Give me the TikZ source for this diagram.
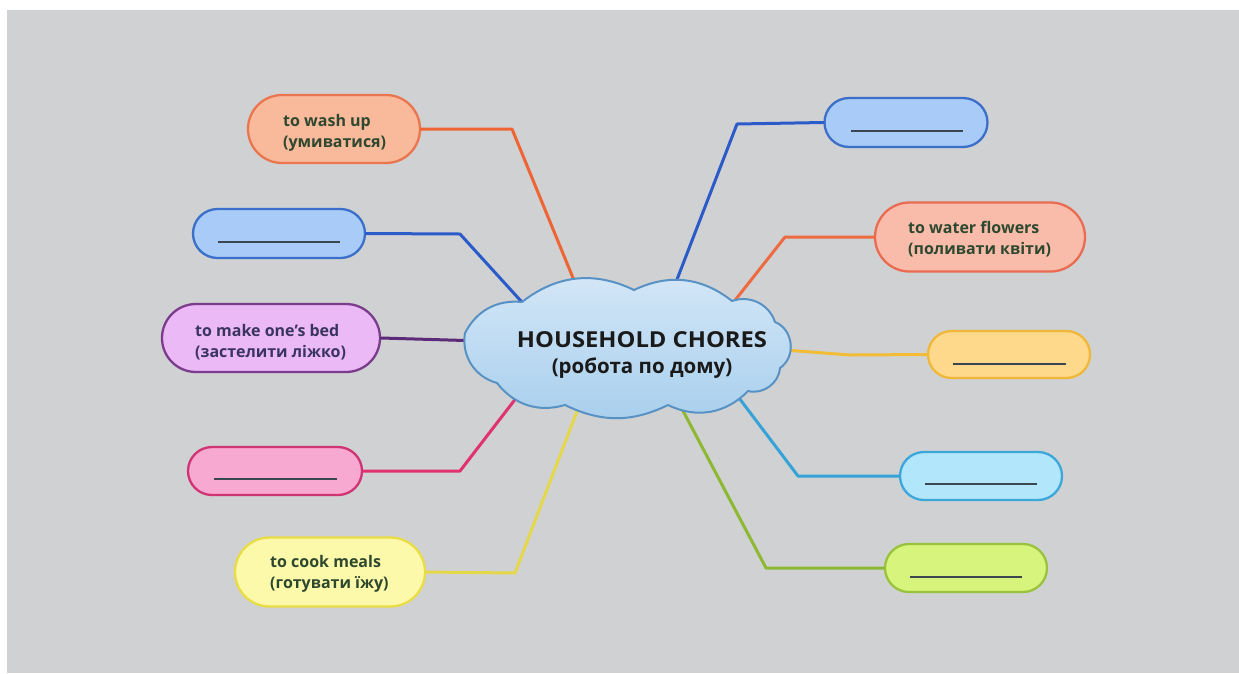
\documentclass[tikz,border=0pt]{standalone}
\usepackage{fontspec}
\setmainfont{Open Sans}
\usetikzlibrary{shapes.misc}
\definecolor{bggray}{HTML}{D0D1D3}
\definecolor{txtgreen}{HTML}{2E482F}
\definecolor{txtpurple}{HTML}{3A3560}
\definecolor{ulcol}{HTML}{3A4650}
\begin{document}
\begin{tikzpicture}[x=1pt,y=-1pt,
  box/.style={rounded rectangle, draw, line width=2.3pt, inner sep=0pt},
  boxtext/.style={align=left, inner sep=0pt, anchor=west, font=\fontsize{16}{20.5}\selectfont\bfseries},
  conn/.style={line width=3pt, line join=round, line cap=round},
  ul/.style={inner sep=0pt, text=ulcol}]
\useasboundingbox (0,0) rectangle (1239,673);
\fill[white] (0,0) rectangle (1239,673);
\fill[bggray] (7,10) rectangle (1239,673);

% left boxes
\node[box, fill={rgb,255:red,249;green,185;blue,155}, draw={rgb,255:red,233;green,118;blue,78}, minimum width=172pt, minimum height=68pt] (wash) at (334,129) {};
\node[boxtext, text=txtgreen] (washt) at (283,133) {to wash up\\(умиватися)};

\node[box, fill={rgb,255:red,168;green,203;blue,247}, draw={rgb,255:red,59;green,111;blue,201}, minimum width=172pt, minimum height=49pt] (bl) at (279,233.5) {};
\node[ul] (blu) at (279,242) {\rule{122pt}{1.8pt}};

\node[box, fill={rgb,255:red,235;green,185;blue,246}, draw={rgb,255:red,123;green,60;blue,140}, minimum width=218pt, minimum height=68pt] (bed) at (271,338) {};
\node[boxtext, text=txtpurple] (bedt) at (195,342) {to make one’s bed\\(застелити ліжко)};

\node[box, fill={rgb,255:red,248;green,169;blue,209}, draw={rgb,255:red,207;green,53;blue,115}, minimum width=174pt, minimum height=48pt] (pk) at (275,471) {};
\node[ul] (pku) at (275,479) {\rule{123pt}{1.8pt}};

\node[box, fill={rgb,255:red,252;green,250;blue,170}, draw={rgb,255:red,233;green,221;blue,69}, minimum width=190pt, minimum height=69pt] (cook) at (330,572) {};
\node[boxtext, text=txtgreen] (cookt) at (270,574) {to cook meals\\(готувати їжу)};

% right boxes
\node[box, fill={rgb,255:red,168;green,203;blue,247}, draw={rgb,255:red,59;green,111;blue,201}, minimum width=163pt, minimum height=49pt] (br) at (906,122.5) {};
\node[ul] (bru) at (907,131) {\rule{112pt}{1.8pt}};

\node[box, fill={rgb,255:red,249;green,188;blue,171}, draw={rgb,255:red,233;green,108;blue,82}, minimum width=210pt, minimum height=69pt] (water) at (980,237) {};
\node[boxtext, text=txtgreen] (watert) at (908,239) {to water flowers\\(поливати квіти)};

\node[box, fill={rgb,255:red,254;green,217;blue,140}, draw={rgb,255:red,240;green,184;blue,56}, minimum width=162pt, minimum height=47pt] (yl) at (1009,354.5) {};
\node[ul] (ylu) at (1009,364) {\rule{113pt}{1.8pt}};

\node[box, fill={rgb,255:red,178;green,230;blue,251}, draw={rgb,255:red,59;green,167;blue,218}, minimum width=162pt, minimum height=48pt] (cy) at (981,476) {};
\node[ul] (cyu) at (981,484) {\rule{112pt}{1.8pt}};

\node[box, fill={rgb,255:red,215;green,244;blue,124}, draw={rgb,255:red,153;green,195;blue,60}, minimum width=162pt, minimum height=48pt] (lm) at (966,568) {};
\node[ul] (lmu) at (966,577) {\rule{112pt}{1.8pt}};

% cloud contact points (hidden under the cloud)
\coordinate (c1) at (580,295);
\coordinate (c2) at (530,311);
\coordinate (c3) at (482,341);
\coordinate (c4) at (530,380);
\coordinate (c5) at (589,380);
\coordinate (c6) at (671,295);
\coordinate (c7) at (725,313);
\coordinate (c8) at (772,349);
\coordinate (c9) at (733,390);
\coordinate (c10) at (672,390);

% connectors
\draw[conn, draw={rgb,255:red,238;green,100;blue,51}] (wash.east) -- (512,129) -- (c1);
\draw[conn, draw={rgb,255:red,43;green,91;blue,201}] (bl.east) -- (460,234) -- (c2);
\draw[conn, draw={rgb,255:red,92;green,42;blue,120}] (bed.east) -- (c3);
\draw[conn, draw={rgb,255:red,224;green,50;blue,111}] (pk.east) -- (460,471) -- (c4);
\draw[conn, draw={rgb,255:red,228;green,216;blue,74}] (cook.east) -- (515,573) -- (c5);
\draw[conn, draw={rgb,255:red,43;green,91;blue,201}] (br.west) -- (737,124) -- (c6);
\draw[conn, draw={rgb,255:red,238;green,106;blue,64}] (water.west) -- (785,237) -- (c7);
\draw[conn, draw={rgb,255:red,242;green,188;blue,53}] (yl.west) -- (850,355) -- (c8);
\draw[conn, draw={rgb,255:red,53;green,162;blue,216}] (cy.west) -- (798,476) -- (c9);
\draw[conn, draw={rgb,255:red,140;green,184;blue,50}] (lm.west) -- (766,568) -- (c10);

% cloud
\path[draw={rgb,255:red,88;green,146;blue,196}, line width=2pt, line join=round,
  top color={rgb,255:red,212;green,231;blue,247}, bottom color={rgb,255:red,168;green,207;blue,237}]
  (465,333) to[bend left=34] (522,302) to[bend left=32] (634,290) to[bend left=32] (732,301)
  to[bend left=46] (775,322) to[bend left=62, looseness=1.1] (780,368) to[bend left=50] (748,391)
  to[bend left=36] (668,405) to[bend left=26] (565,405) to[bend left=34] (497,383)
  to[bend left=42] (465,333) -- cycle;
\node[align=center, inner sep=0pt, font=\fontsize{22}{26}\selectfont\bfseries, text={rgb,255:red,26;green,26;blue,26}] (title) at (642,355) {{\addfontfeature{FakeStretch=1.08}HOUSEHOLD CHORES}\\{\fontsize{20.5}{26}\selectfont (робота по дому)}};
\end{tikzpicture}
\end{document}
